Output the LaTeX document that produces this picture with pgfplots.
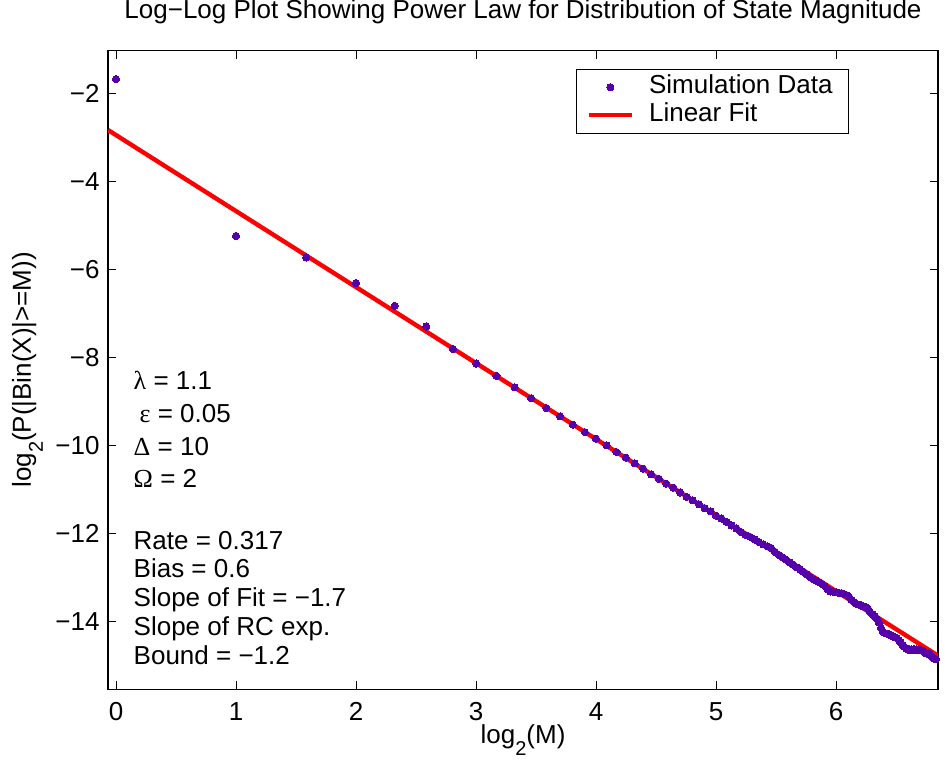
\documentclass[border=0pt]{standalone}
\usepackage{pgfplots}
\pgfplotsset{compat=1.18}
\usepackage{fontspec}
\setmainfont{Liberation Sans}
\newfontfamily\grk{Liberation Serif}
\definecolor{simpurple}{RGB}{85,0,170}
\newcommand{\sub}[1]{\raisebox{-6pt}{\fontsize{10}{12}\selectfont #1}}
\begin{document}
\begin{tikzpicture}[font=\fontsize{13}{15.6}\selectfont]
\begin{axis}[
  width=415pt, height=319.25pt, scale only axis,
  xmin=-0.067, xmax=6.85, ymin=-15.54, ymax=-1.03,
  xtick={0,1,2,3,4,5,6}, xticklabels={0,1,2,3,4,5,6},
  ytick={-14,-12,-10,-8,-6,-4,-2}, yticklabels={−14,−12,−10,−8,−6,−4,−2},
  tick align=inside, major tick length=4pt,
  every tick/.style={black, line width=0.5pt},
  axis line style={line width=0.6pt},
  xticklabel style={anchor=base, inner sep=0pt, yshift=-15.5pt},
  yticklabel style={anchor=east, inner sep=0pt, xshift=-4pt},
  title={Log−Log Plot Showing Power Law for Distribution of State Magnitude},
  title style={at={(0.5,1.031)}, anchor=base, inner sep=0pt},
  xlabel={log\sub{2}(M)},
  ylabel={log\sub{2}(P(|Bin(X)|>=M))},
  every axis x label/.style={at={(axis description cs:0.5,-0.085)}, anchor=base, inner sep=0pt},
  every axis y label/.style={at={(axis description cs:-0.0928,0.5)}, rotate=90, anchor=base, inner sep=0pt},
  legend image code/.code={\draw[mark repeat=2,mark phase=2,#1] plot coordinates {(0pt,0pt)(10.75pt,0pt)(21.5pt,0pt)};},
  legend style={at={(0.893,0.972)}, anchor=north east, draw=black, line width=0.6pt, fill=white,
    inner xsep=5pt, inner ysep=3pt, row sep=2.0pt,
    nodes={inner xsep=3pt, inner ysep=0pt, text height=9.2pt, text depth=2.8pt},
    /tikz/every odd column/.append style={column sep=4.5pt},
    cells={anchor=west}},
  clip=true,
]
\addplot[only marks, mark=*, mark size=1.8pt, color=simpurple, mark options={draw=simpurple, fill=simpurple, line width=0pt}] coordinates {
(0,-1.675) (1,-5.24) (1.585,-5.73) (2,-6.31) (2.322,-6.83) (2.585,-7.30) (2.807,-7.81)
(3,-8.14) (3.170,-8.42) (3.322,-8.68) (3.459,-8.93) (3.585,-9.15) (3.700,-9.34) (3.807,-9.53)
(3.907,-9.70) (4,-9.85) (4.087,-10.00) (4.170,-10.15) (4.248,-10.28) (4.322,-10.41) (4.392,-10.53)
(4.459,-10.66) (4.524,-10.76) (4.585,-10.87) (4.644,-10.96) (4.700,-11.07) (4.755,-11.17) (4.807,-11.25)
(4.858,-11.34) (4.907,-11.43) (4.954,-11.50) (5,-11.60) (5.044,-11.66) (5.087,-11.74) (5.129,-11.82)
(5.170,-11.89) (5.209,-11.97) (5.248,-12.04) (5.285,-12.08) (5.322,-12.14) (5.358,-12.20) (5.392,-12.25)
(5.426,-12.29) (5.459,-12.33) (5.492,-12.42) (5.524,-12.49) (5.555,-12.55) (5.585,-12.60)
(5.615,-12.66) (5.644,-12.71) (5.672,-12.77) (5.700,-12.82) (5.728,-12.87) (5.755,-12.93) (5.781,-12.99)
(5.807,-13.04) (5.833,-13.07) (5.858,-13.11) (5.883,-13.15) (5.907,-13.20) (5.931,-13.27) (5.954,-13.32)
(5.977,-13.33) (6.000,-13.34) (6.022,-13.35) (6.044,-13.36) (6.066,-13.38) (6.087,-13.40) (6.109,-13.44)
(6.129,-13.51) (6.150,-13.56) (6.170,-13.60) (6.190,-13.62) (6.209,-13.64) (6.229,-13.66) (6.248,-13.68)
(6.267,-13.71) (6.285,-13.79) (6.304,-13.84) (6.322,-13.88) (6.340,-13.94) (6.358,-14.03) (6.375,-14.15)
(6.392,-14.24) (6.409,-14.27) (6.426,-14.28) (6.443,-14.30) (6.459,-14.32) (6.476,-14.35) (6.492,-14.36)
(6.508,-14.38) (6.524,-14.43) (6.539,-14.48) (6.555,-14.54) (6.570,-14.58) (6.585,-14.62) (6.600,-14.64)
(6.615,-14.64) (6.630,-14.64) (6.644,-14.64) (6.658,-14.64) (6.672,-14.64) (6.687,-14.64) (6.700,-14.65)
(6.714,-14.66) (6.728,-14.68) (6.741,-14.72) (6.755,-14.73) (6.768,-14.73) (6.781,-14.74) (6.794,-14.78)
(6.807,-14.83) (6.820,-14.85) (6.833,-14.86)
};
\addlegendentry{Simulation Data}
\addplot[red, line width=2.2pt] coordinates {(-0.067,-2.834) (6.85,-14.780)};
\addlegendentry{Linear Fit}
\node[anchor=base west, inner sep=0pt] at (axis cs:0.144,-8.72) {{\grk λ} = 1.1};
\node[anchor=base west, inner sep=0pt] at (axis cs:0.194,-9.477) {{\grk ε} = 0.05};
\node[anchor=base west, inner sep=0pt] at (axis cs:0.144,-10.236) {{\grk Δ} = 10};
\node[anchor=base west, inner sep=0pt] at (axis cs:0.144,-10.955) {{\grk Ω} = 2};
\node[anchor=base west, inner sep=0pt] at (axis cs:0.144,-12.357) {Rate = 0.317};
\node[anchor=base west, inner sep=0pt] at (axis cs:0.144,-13.000) {Bias = 0.6};
\node[anchor=base west, inner sep=0pt] at (axis cs:0.144,-13.668) {Slope of Fit = −1.7};
\node[anchor=base west, inner sep=0pt] at (axis cs:0.144,-14.327) {Slope of RC exp.};
\node[anchor=base west, inner sep=0pt] at (axis cs:0.144,-14.970) {Bound = −1.2};
\end{axis}
\path (current axis.south west) ++(-54pt,-35pt) rectangle ++(472.5pt,377.5pt);
\end{tikzpicture}
\end{document}
